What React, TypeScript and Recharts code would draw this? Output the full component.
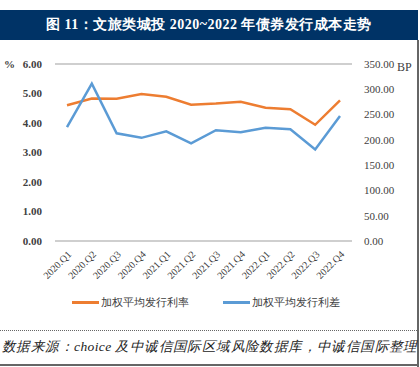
import { LineChart, Line, XAxis, YAxis, CartesianGrid, Legend } from 'recharts'

const quarters = [
  '2020.Q1', '2020.Q2', '2020.Q3', '2020.Q4',
  '2021.Q1', '2021.Q2', '2021.Q3', '2021.Q4',
  '2022.Q1', '2022.Q2', '2022.Q3', '2022.Q4',
]
const issueRate = [4.6, 4.83, 4.82, 4.98, 4.89, 4.62, 4.66, 4.72, 4.52, 4.47, 3.94, 4.77]
const issueSpread = [225, 311, 213, 204, 217, 193, 219, 215, 224, 221, 181, 247]
const leftTicks = [0, 1, 2, 3, 4, 5, 6]
const rightTicks = [0, 50, 100, 150, 200, 250, 300, 350]
const seriesNames = ['加权平均发行利率', '加权平均发行利差']
const seriesColors = ['#ed7d31', '#5b9bd5']

const data = quarters.map((q, i) => ({ q, rate: issueRate[i], spread: issueSpread[i] }))

const serif = '"Liberation Serif", "Times New Roman", serif'

function QuarterTick({ x, y, payload }: any) {
  return (
    <g transform={`translate(${x + 5},${y + 6})`}>
      <text
        textAnchor="end"
        transform="rotate(-45)"
        fontSize={10}
        fontFamily={serif}
        fill="#404040"
      >
        {payload.value}
      </text>
    </g>
  )
}

function LegendBox() {
  return (
    <div style={{ display: 'flex', justifyContent: 'center', gap: 34, fontFamily: serif, fontSize: 11, color: '#404040' }}>
      {seriesNames.map((n, i) => (
        <div key={n} style={{ display: 'flex', alignItems: 'center' }}>
          <span style={{ display: 'inline-block', width: 27, height: 2.5, background: seriesColors[i], marginRight: 2 }} />
          {n}
        </div>
      ))}
    </div>
  )
}

export default function App() {
  return (
    <div style={{ position: 'absolute', left: 0, top: 0, width: 420, height: 367, background: '#fff', overflow: 'hidden' }}>
      <div
        style={{
          position: 'absolute', left: 0, top: 10, width: 418, height: 30,
          background: '#003366', color: '#fff', fontFamily: serif, fontWeight: 'bold',
          fontSize: 14, lineHeight: '30px', textAlign: 'center', letterSpacing: 0.5,
        }}
      >
        图 11：文旅类城投 2020~2022 年债券发行成本走势
      </div>
      <div style={{ position: 'absolute', left: 417, top: 40, width: 1.5, height: 327, background: '#666' }} />
      <div style={{ position: 'absolute', left: 4, top: 58, fontSize: 11, fontWeight: 'bold', fontFamily: serif, color: '#404040' }}>%</div>
      <div style={{ position: 'absolute', left: 397, top: 60, fontSize: 12, fontFamily: serif, color: '#404040' }}>BP</div>
      <div style={{ position: 'absolute', left: 0, top: 0 }}>
        <LineChart width={420} height={320} data={data} margin={{ top: 64, right: 8, left: 0, bottom: 0 }}>
          <CartesianGrid vertical={false} stroke="#bfbfbf" strokeWidth={1.5} />
          <XAxis
            dataKey="q"
            tick={<QuarterTick />}
            tickLine={false}
            axisLine={false}
            interval={0}
            height={64}
            padding={{ left: 12, right: 12 }}
          />
          <YAxis
            yAxisId="left"
            domain={[0, 6]}
            ticks={leftTicks}
            tickFormatter={(v) => v.toFixed(2)}
            tickLine={false}
            axisLine={false}
            width={55}
            tickMargin={7}
            tick={{ fontSize: 11, fontFamily: serif, fill: '#404040', fontWeight: 'bold' }}
          />
          <YAxis
            yAxisId="right"
            orientation="right"
            domain={[0, 350]}
            ticks={rightTicks}
            tickFormatter={(v) => v.toFixed(2)}
            tickLine={false}
            axisLine={false}
            width={60}
            tickMargin={6}
            tick={{ fontSize: 11, fontFamily: serif, fill: '#404040', textAnchor: 'start' }}
          />
          <Legend verticalAlign="bottom" content={<LegendBox />} wrapperStyle={{ bottom: 10 }} />
          <Line
            yAxisId="left"
            dataKey="rate"
            name={seriesNames[0]}
            stroke={seriesColors[0]}
            strokeWidth={2.5}
            dot={false}
            type="linear"
            isAnimationActive={false}
          />
          <Line
            yAxisId="right"
            dataKey="spread"
            name={seriesNames[1]}
            stroke={seriesColors[1]}
            strokeWidth={2.5}
            dot={false}
            type="linear"
            isAnimationActive={false}
          />
        </LineChart>
      </div>
      <div style={{ position: 'absolute', left: 0, top: 330, width: 417, borderTop: '1px dotted #666' }} />
      <div
        style={{
          position: 'absolute', left: 2, top: 338, fontSize: 13.5, fontStyle: 'italic',
          fontFamily: serif, color: '#222', whiteSpace: 'nowrap', letterSpacing: 0.4,
        }}
      >
        数据来源：choice 及中诚信国际区域风险数据库，中诚信国际整理
      </div>
      <div style={{ position: 'absolute', left: 0, top: 364, width: 418, height: 2, background: '#666' }} />
    </div>
  )
}
